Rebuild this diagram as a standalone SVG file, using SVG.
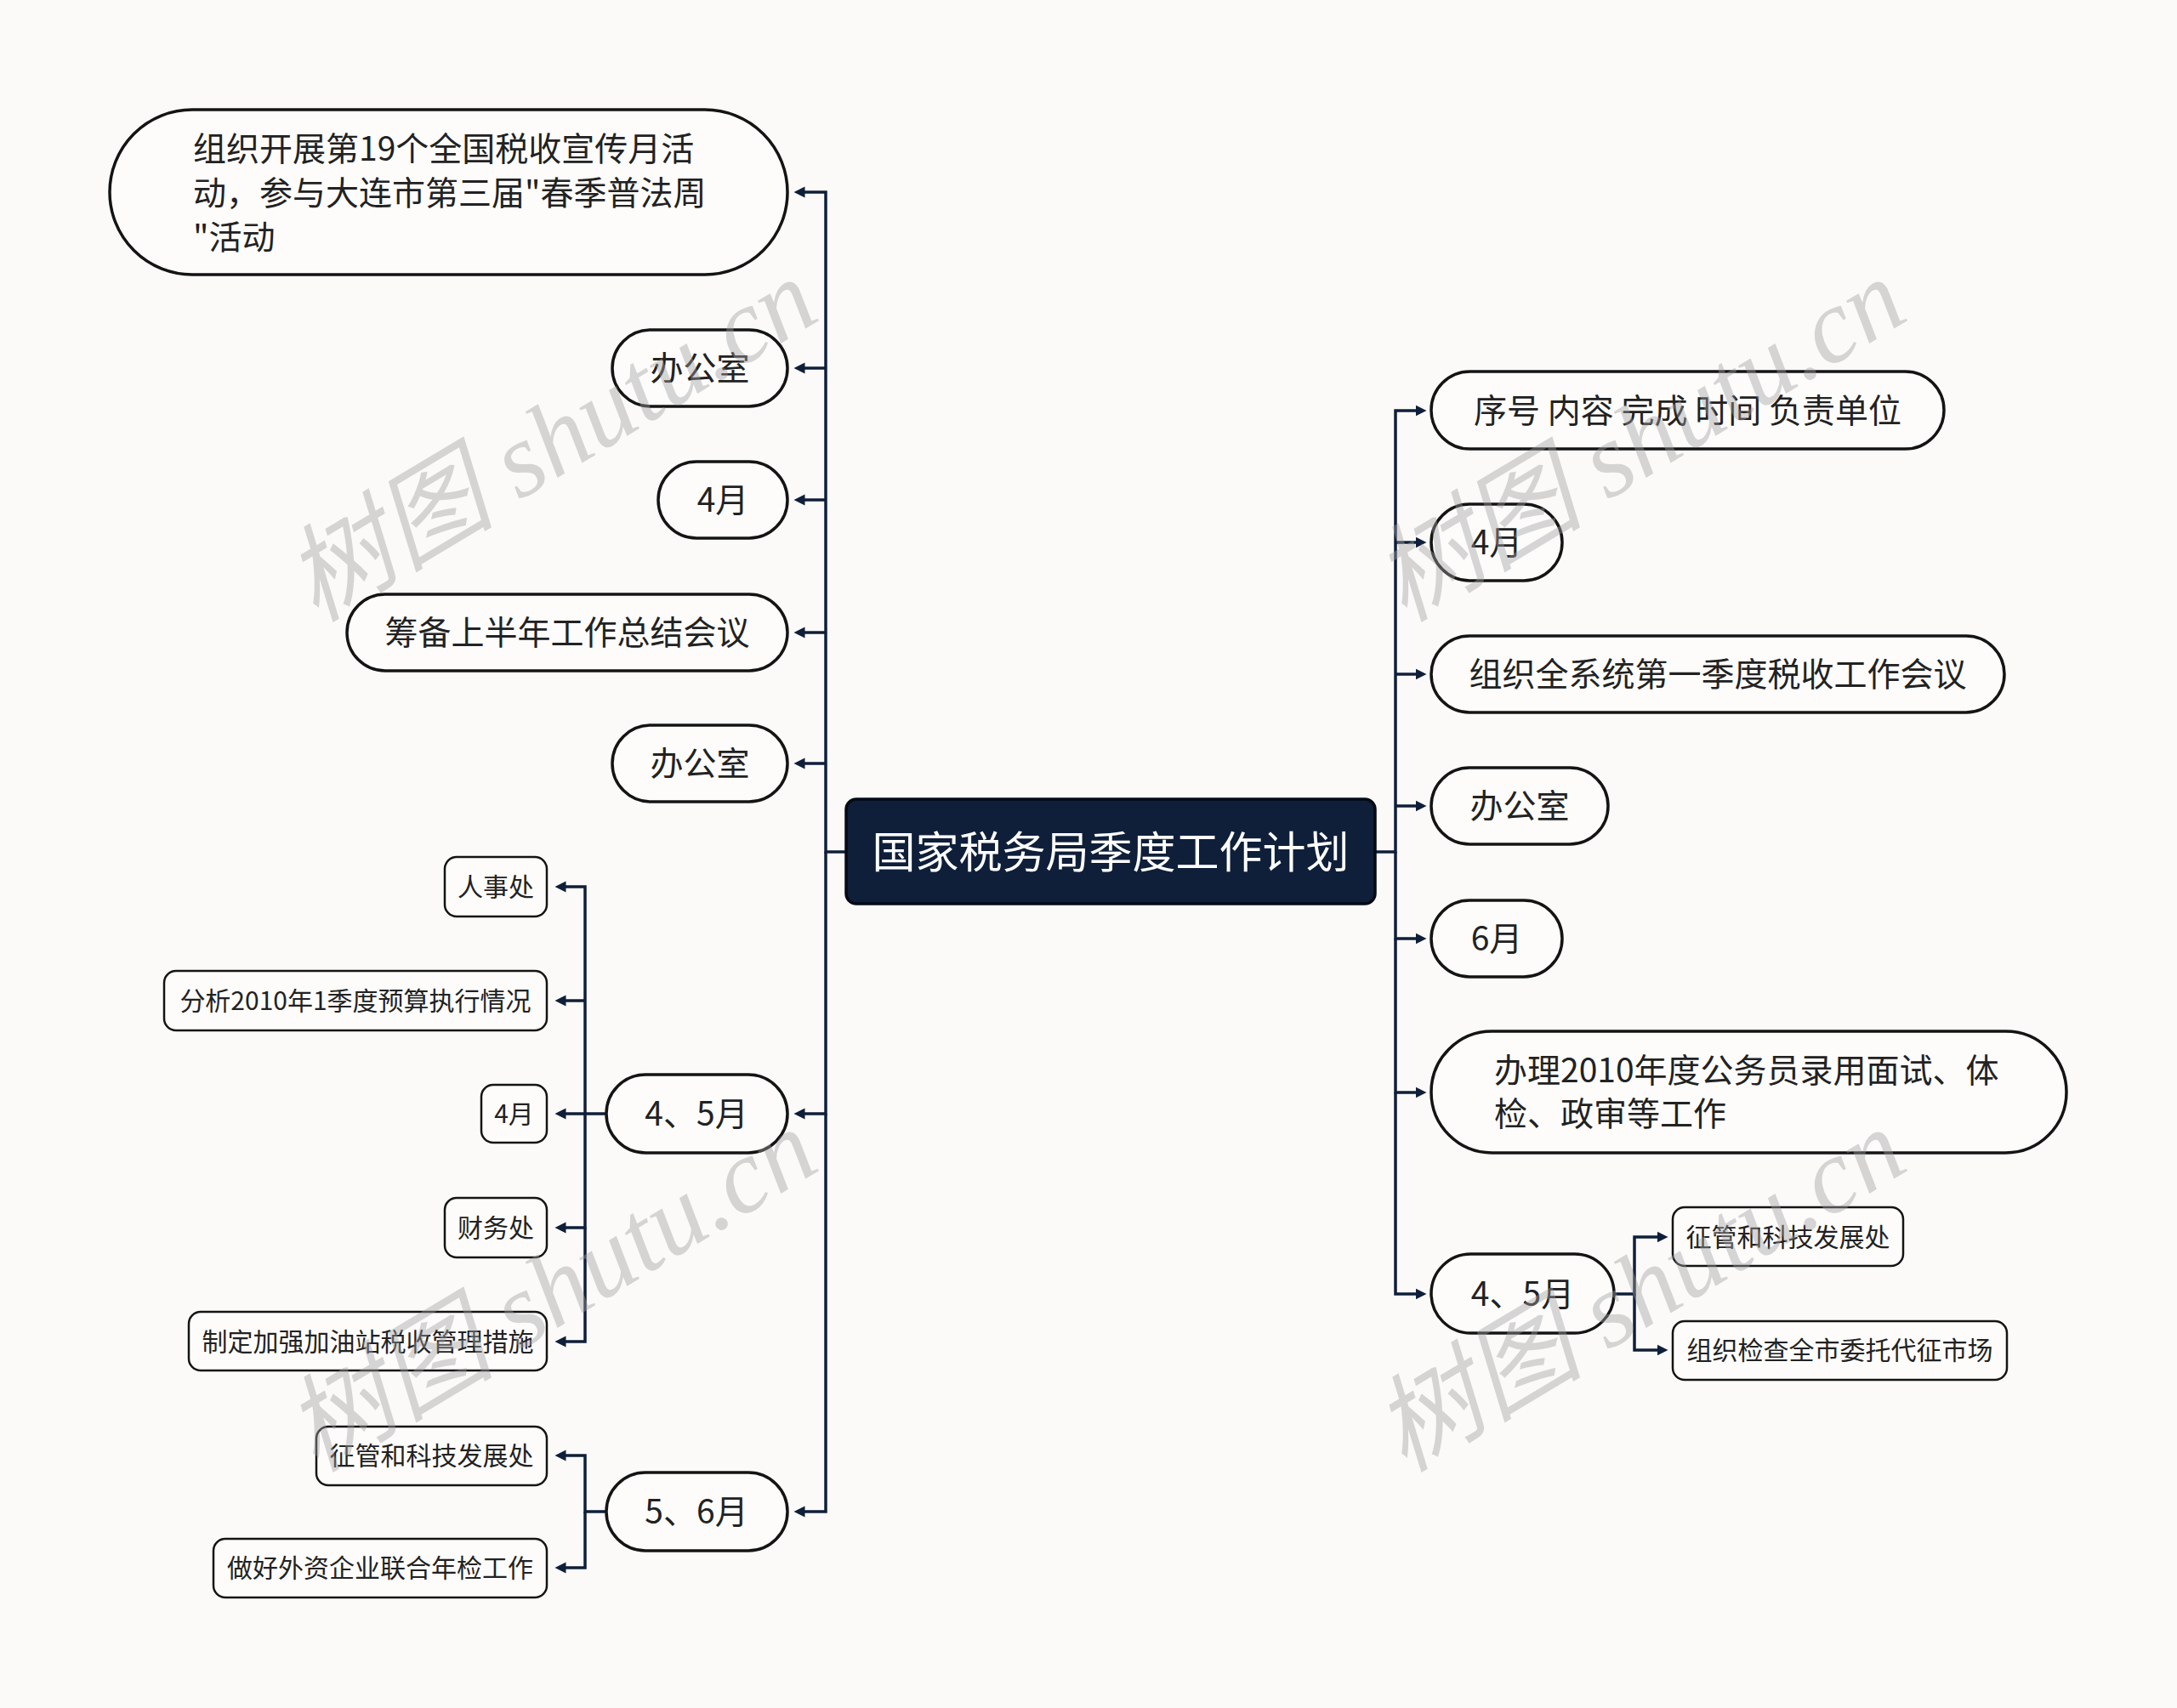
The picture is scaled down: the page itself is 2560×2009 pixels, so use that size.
<svg xmlns="http://www.w3.org/2000/svg" width="2560" height="2009" viewBox="0 0 2560 2009">
<defs>
<style>
.bg{fill:#fcfaf9}
.n1{fill:#fdfcfb;stroke:#141414;stroke-width:3.5}
.n2{fill:#fdfcfb;stroke:#141414;stroke-width:2.5}
.root{fill:#0f1f3a;stroke:#050a14;stroke-width:3.5}
.t1{font-family:"Noto Sans CJK SC","Noto Sans",sans-serif;font-size:39px;fill:#222;transform:translateY(-3px)}
.t2{font-family:"Noto Sans CJK SC","Noto Sans",sans-serif;font-size:30px;fill:#222;transform:translateY(-2px)}
.tr{font-family:"Noto Sans CJK SC","Noto Sans",sans-serif;font-size:51px;fill:#fff;transform:translateY(-3px)}
.c{fill:none;stroke:#0f1f3a;stroke-width:3.5;marker-end:url(#ah)}
.wm{font-family:"Liberation Serif","Noto Sans CJK SC",serif;font-style:italic;font-size:124px;fill:#a0a0a0;fill-opacity:0.42}
</style>
<marker id="ah" markerUnits="userSpaceOnUse" markerWidth="14" markerHeight="14" refX="0.5" refY="7" orient="auto">
<path d="M0,0.5 L13,7 L0,13.5 z" fill="#0f1f3a"/>
</marker>
</defs>
<rect class="bg" x="0" y="0" width="2560" height="2009"/>

<g id="connectors">
<path class="c" d="M995 1002 H971 V226 H946"/>
<path class="c" d="M971 433 H946"/>
<path class="c" d="M971 588 H946"/>
<path class="c" d="M971 744 H946"/>
<path class="c" d="M971 898 H946"/>
<path class="c" d="M971 1002 V1310 H946"/>
<path class="c" d="M971 1310 V1778 H946"/>
<path class="c" d="M713 1310 H688 V1043 H665"/>
<path class="c" d="M688 1177 H665"/>
<path class="c" d="M688 1310 H665"/>
<path class="c" d="M688 1310 V1444 H665"/>
<path class="c" d="M688 1444 V1578 H665"/>
<path class="c" d="M713 1778 H688 V1712 H665"/>
<path class="c" d="M688 1778 V1844 H665"/>
<path class="c" d="M1617 1002 H1641 V483 H1665"/>
<path class="c" d="M1641 638 H1665"/>
<path class="c" d="M1641 793 H1665"/>
<path class="c" d="M1641 948 H1665"/>
<path class="c" d="M1641 1002 V1104 H1665"/>
<path class="c" d="M1641 1104 V1285 H1665"/>
<path class="c" d="M1641 1285 V1522 H1665"/>
<path class="c" d="M1898 1522 H1922 V1455 H1949"/>
<path class="c" d="M1922 1522 V1588 H1949"/>
</g>

<g id="root">
<rect class="root" x="995" y="940" width="622" height="123" rx="12"/>
<text class="tr" x="1306" y="1002" text-anchor="middle" dominant-baseline="central">国家税务局季度工作计划</text>
</g>

<g id="L1">
<rect class="n1" x="129" y="129" width="797" height="194" rx="97"/>
<text class="t1" x="227" y="175" dominant-baseline="central">组织开展第19个全国税收宣传月活</text>
<text class="t1" x="227" y="227" dominant-baseline="central">动，参与大连市第三届"春季普法周</text>
<text class="t1" x="227" y="279" dominant-baseline="central">"活动</text>
</g>
<g id="L2">
<rect class="n1" x="720" y="388" width="206" height="90" rx="45"/>
<text class="t1" x="823" y="433" text-anchor="middle" dominant-baseline="central">办公室</text>
</g>
<g id="L3">
<rect class="n1" x="774" y="543" width="152" height="90" rx="45"/>
<text class="t1" x="850" y="588" text-anchor="middle" dominant-baseline="central">4月</text>
</g>
<g id="L4">
<rect class="n1" x="408" y="699" width="518" height="90" rx="45"/>
<text class="t1" x="667" y="744" text-anchor="middle" dominant-baseline="central">筹备上半年工作总结会议</text>
</g>
<g id="L5">
<rect class="n1" x="720" y="853" width="206" height="90" rx="45"/>
<text class="t1" x="823" y="898" text-anchor="middle" dominant-baseline="central">办公室</text>
</g>
<g id="L6">
<rect class="n1" x="713" y="1264" width="213" height="92" rx="46"/>
<text class="t1" x="819" y="1310" text-anchor="middle" dominant-baseline="central">4、5月</text>
</g>
<g id="L6a">
<rect class="n2" x="523" y="1008" width="120" height="70" rx="14"/>
<text class="t2" x="583" y="1043" text-anchor="middle" dominant-baseline="central">人事处</text>
</g>
<g id="L6b">
<rect class="n2" x="193" y="1142" width="450" height="70" rx="14"/>
<text class="t2" x="418" y="1177" text-anchor="middle" dominant-baseline="central">分析2010年1季度预算执行情况</text>
</g>
<g id="L6c">
<rect class="n2" x="566" y="1276" width="77" height="68" rx="14"/>
<text class="t2" x="604.5" y="1310" text-anchor="middle" dominant-baseline="central">4月</text>
</g>
<g id="L6d">
<rect class="n2" x="523" y="1409" width="120" height="70" rx="14"/>
<text class="t2" x="583" y="1444" text-anchor="middle" dominant-baseline="central">财务处</text>
</g>
<g id="L6e">
<rect class="n2" x="222" y="1543" width="421" height="69" rx="14"/>
<text class="t2" x="432.5" y="1578" text-anchor="middle" dominant-baseline="central">制定加强加油站税收管理措施</text>
</g>
<g id="L7">
<rect class="n1" x="713" y="1732" width="213" height="92" rx="46"/>
<text class="t1" x="819" y="1778" text-anchor="middle" dominant-baseline="central">5、6月</text>
</g>
<g id="L7a">
<rect class="n2" x="372" y="1678" width="271" height="69" rx="14"/>
<text class="t2" x="507.5" y="1712" text-anchor="middle" dominant-baseline="central">征管和科技发展处</text>
</g>
<g id="L7b">
<rect class="n2" x="251" y="1810" width="392" height="69" rx="14"/>
<text class="t2" x="447" y="1844" text-anchor="middle" dominant-baseline="central">做好外资企业联合年检工作</text>
</g>

<g id="R1">
<rect class="n1" x="1683" y="437" width="603" height="91" rx="45.5"/>
<text class="t1" x="1984.5" y="483" text-anchor="middle" dominant-baseline="central">序号 内容 完成 时间 负责单位</text>
</g>
<g id="R2">
<rect class="n1" x="1683" y="593" width="154" height="90" rx="45"/>
<text class="t1" x="1760" y="638" text-anchor="middle" dominant-baseline="central">4月</text>
</g>
<g id="R3">
<rect class="n1" x="1683" y="748" width="674" height="90" rx="45"/>
<text class="t1" x="2020" y="793" text-anchor="middle" dominant-baseline="central">组织全系统第一季度税收工作会议</text>
</g>
<g id="R4">
<rect class="n1" x="1683" y="903" width="208" height="90" rx="45"/>
<text class="t1" x="1787" y="948" text-anchor="middle" dominant-baseline="central">办公室</text>
</g>
<g id="R5">
<rect class="n1" x="1683" y="1059" width="154" height="90" rx="45"/>
<text class="t1" x="1760" y="1104" text-anchor="middle" dominant-baseline="central">6月</text>
</g>
<g id="R6">
<rect class="n1" x="1683" y="1213" width="747" height="143" rx="71.5"/>
<text class="t1" x="1757" y="1259" dominant-baseline="central">办理2010年度公务员录用面试、体</text>
<text class="t1" x="1757" y="1310" dominant-baseline="central">检、政审等工作</text>
</g>
<g id="R7">
<rect class="n1" x="1683" y="1475" width="215" height="93" rx="46.5"/>
<text class="t1" x="1790.5" y="1522" text-anchor="middle" dominant-baseline="central">4、5月</text>
</g>
<g id="R7a">
<rect class="n2" x="1967" y="1420" width="271" height="69" rx="14"/>
<text class="t2" x="2102.5" y="1455" text-anchor="middle" dominant-baseline="central">征管和科技发展处</text>
</g>
<g id="R7b">
<rect class="n2" x="1967" y="1554" width="393" height="69" rx="14"/>
<text class="t2" x="2163.5" y="1588" text-anchor="middle" dominant-baseline="central">组织检查全市委托代征市场</text>
</g>

<g id="watermarks">
<text class="wm" transform="translate(648 518) rotate(-31)" text-anchor="middle" dominant-baseline="central">树图 shutu.cn</text>
<text class="wm" transform="translate(1928 518) rotate(-31)" text-anchor="middle" dominant-baseline="central">树图 shutu.cn</text>
<text class="wm" transform="translate(648 1518) rotate(-31)" text-anchor="middle" dominant-baseline="central">树图 shutu.cn</text>
<text class="wm" transform="translate(1928 1518) rotate(-31)" text-anchor="middle" dominant-baseline="central">树图 shutu.cn</text>
</g>
</svg>
